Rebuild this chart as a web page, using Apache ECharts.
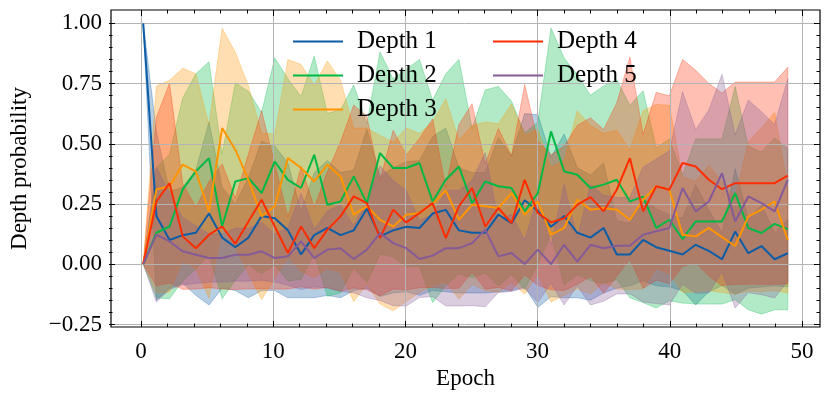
<!DOCTYPE html>
<html><head><meta charset="utf-8">
<script src="https://cdn.jsdelivr.net/npm/echarts@6/dist/echarts.min.js"></script>
<style>html,body{margin:0;padding:0;background:#fff}#c{width:830px;height:398px}</style>
</head><body><div id="c"></div>
<script>
const epochs = [0,1,2,3,4,5,6,7,8,9,10,11,12,13,14,15,16,17,18,19,20,21,22,23,24,25,26,27,28,29,30,31,32,33,34,35,36,37,38,39,40,41,42,43,44,45,46,47,48,49];
const seriesNames = ['Depth 1','Depth 2','Depth 3','Depth 4','Depth 5'];
const colors = ['#0C5DA5','#00B945','#FF9500','#FF2C00','#845B97'];
const xTickLabels = [0,10,20,30,40,50];
const yTickLabels = [-0.25,0,0.25,0.5,0.75,1.0];

const mean1 = [1.0,0.2,0.1,0.12,0.13,0.21,0.11,0.07,0.11,0.2,0.19,0.14,0.04,0.12,0.15,0.12,0.14,0.23,0.115,0.14,0.155,0.15,0.21,0.225,0.14,0.13,0.13,0.205,0.17,0.265,0.22,0.155,0.2,0.13,0.11,0.15,0.04,0.04,0.1,0.07,0.055,0.04,0.08,0.055,0.02,0.135,0.045,0.075,0.02,0.045];
const std1 = [0,0.35,0.2,0.2,0.26,0.38,0.21,0.18,0.25,0.31,0.3,0.28,0.18,0.26,0.28,0.26,0.25,0.33,0.25,0.26,0.27,0.28,0.32,0.34,0.26,0.25,0.25,0.32,0.28,0.36,0.4,0.29,0.34,0.27,0.26,0.27,0.14,0.13,0.17,0.16,0.15,0.15,0.25,0.17,0.11,0.26,0.145,0.17,0.11,0.14];
const mean2 = [0,0.13,0.156,0.31,0.385,0.44,0.156,0.343,0.357,0.295,0.426,0.35,0.316,0.454,0.246,0.26,0.364,0.253,0.461,0.399,0.399,0.42,0.26,0.35,0.405,0.253,0.343,0.323,0.316,0.219,0.295,0.551,0.385,0.371,0.316,0.33,0.35,0.26,0.28,0.15,0.184,0.104,0.177,0.177,0.177,0.295,0.15,0.129,0.167,0.145];
const std2 = [0,0.27,0.3,0.38,0.405,0.4,0.3,0.41,0.36,0.335,0.43,0.42,0.38,0.41,0.38,0.38,0.38,0.33,0.42,0.37,0.41,0.43,0.42,0.44,0.445,0.31,0.38,0.415,0.36,0.325,0.295,0.43,0.47,0.415,0.385,0.41,0.415,0.4,0.44,0.333,0.336,0.266,0.343,0.343,0.343,0.443,0.34,0.337,0.357,0.335];
const mean3 = [0,0.31,0.323,0.413,0.385,0.219,0.565,0.475,0.35,0.198,0.24,0.44,0.399,0.343,0.413,0.364,0.205,0.24,0.184,0.156,0.205,0.212,0.25,0.306,0.184,0.246,0.24,0.233,0.295,0.205,0.26,0.122,0.15,0.267,0.226,0.233,0.226,0.184,0.267,0.323,0.309,0.122,0.115,0.15,0.112,0.075,0.198,0.226,0.26,0.1];
const std3 = [0,0.43,0.44,0.4,0.405,0.36,0.415,0.405,0.39,0.345,0.3,0.41,0.43,0.4,0.43,0.4,0.36,0.325,0.35,0.35,0.36,0.33,0.34,0.38,0.33,0.33,0.35,0.35,0.37,0.33,0.3,0.28,0.28,0.37,0.35,0.31,0.33,0.29,0.37,0.34,0.35,0.24,0.23,0.26,0.23,0.2,0.31,0.34,0.37,0.22];
const mean4 = [0,0.26,0.336,0.115,0.066,0.122,0.156,0.084,0.177,0.267,0.156,0.046,0.156,0.066,0.143,0.198,0.281,0.253,0.108,0.226,0.173,0.212,0.253,0.108,0.24,0.316,0.156,0.233,0.17,0.35,0.212,0.173,0.19,0.246,0.278,0.219,0.309,0.44,0.219,0.323,0.309,0.42,0.405,0.35,0.311,0.336,0.336,0.336,0.336,0.367];
const std4 = [0,0.35,0.415,0.22,0.17,0.22,0.26,0.19,0.28,0.37,0.26,0.15,0.25,0.17,0.24,0.31,0.38,0.36,0.24,0.33,0.28,0.31,0.35,0.21,0.34,0.35,0.26,0.33,0.28,0.395,0.3,0.28,0.3,0.33,0.33,0.34,0.36,0.42,0.32,0.39,0.39,0.43,0.4,0.4,0.4,0.42,0.42,0.42,0.42,0.45];
const mean5 = [0,0.122,0.094,0.053,0.039,0.025,0.025,0.039,0.039,0.053,0.025,0.032,0.094,0.025,0.06,0.066,0.021,0.06,0.129,0.087,0.066,0.021,0.035,0.066,0.066,0.087,0.143,0.032,0.046,0.0,0.06,0.0,0.08,0.01,0.08,0.066,0.076,0.076,0.122,0.136,0.15,0.316,0.219,0.26,0.378,0.177,0.281,0.253,0.219,0.35];
const std5 = [0,0.28,0.2,0.14,0.12,0.1,0.1,0.11,0.11,0.12,0.1,0.12,0.2,0.12,0.16,0.18,0.14,0.2,0.28,0.26,0.24,0.16,0.17,0.24,0.24,0.26,0.32,0.15,0.16,0.1,0.22,0.08,0.25,0.1,0.25,0.22,0.2,0.2,0.28,0.3,0.32,0.4,0.34,0.38,0.41,0.36,0.4,0.38,0.36,0.42];

const FONT = 'Liberation Serif';
const FS = 23;
const means = [mean1,mean2,mean3,mean4,mean5];
const stds = [std1,std2,std3,std4,std5];

function hexA(hex, a){
  const n = parseInt(hex.slice(1),16);
  return 'rgba(' + (n>>16&255) + ',' + (n>>8&255) + ',' + (n&255) + ',' + a + ')';
}

const series = [];
means.forEach((m,i)=>{
  const rows = m.map((v,j)=>[epochs[j], v - stds[i][j], v + stds[i][j]]);
  series.push({
    type:'custom', name:'band_'+i, xAxisIndex:0, yAxisIndex:0, data:rows,
    encode:{x:0, y:[1,2]}, z:1, silent:true, clip:true,
    renderItem:(params, api)=>{
      if (params.dataIndex !== 0) return null;
      const up = rows.map(r=>api.coord([r[0], r[2]]));
      const lo = rows.map(r=>api.coord([r[0], r[1]])).reverse();
      return {
        type:'polygon',
        shape:{points: up.concat(lo)},
        style:{fill:hexA(colors[i],0.3), stroke:hexA(colors[i],0.3), lineWidth:1}
      };
    }
  });
});
means.forEach((m,i)=>{
  series.push({type:'line', name:seriesNames[i], xAxisIndex:0, yAxisIndex:0,
    data:m.map((v,j)=>[epochs[j], v]), symbol:'none',
    lineStyle:{color:colors[i], width:2}, itemStyle:{color:colors[i]}, z:3});
});

const tickStyle = {color:'#000', width:1};
const labelStyle = {fontFamily:FONT, fontSize:FS, color:'#000'};
const fmtY = v => (v < 0 ? '\u2212' : '') + Math.abs(v).toFixed(2);
const legendText = {fontFamily:FONT, fontSize:25, color:'#000', padding:[0,0,0,9], lineHeight:24};

const option = {
  animation:false,
  backgroundColor:'#fff',
  grid:[
    {left:109, right:10, top:10, bottom:71, show:true, borderColor:'#000', borderWidth:1.2, backgroundColor:'transparent', z:4},
    {left:141, width:661, top:10, bottom:71},
    {left:109, right:10, top:23.3, height:301.25}
  ],
  xAxis:[
    {gridIndex:0, type:'value', min:-2.45, max:51.45, axisLine:{show:false}, axisTick:{show:false},
     axisLabel:{show:false}, splitLine:{show:false},
     name:'Epoch', nameLocation:'middle', nameGap:40, nameTextStyle:labelStyle},
    {gridIndex:1, type:'value', min:0, max:50, interval:10, position:'bottom', z:2,
     axisLine:{show:false}, axisTick:{inside:true, length:6, lineStyle:tickStyle},
     minorTick:{show:true, splitNumber:5, length:3.5, lineStyle:tickStyle},
     axisLabel:Object.assign({margin:13, formatter:v=>String(v)}, labelStyle),
     splitLine:{show:true, lineStyle:{color:'#b4b4b4', width:1}}},
    {gridIndex:1, type:'value', min:0, max:50, interval:10, position:'top', z:2,
     axisLine:{show:false}, axisTick:{inside:true, length:6, lineStyle:tickStyle},
     minorTick:{show:true, splitNumber:5, length:3.5, lineStyle:tickStyle},
     axisLabel:{show:false}, splitLine:{show:false}},
    {gridIndex:2, type:'value', min:0, max:1, show:false}
  ],
  yAxis:[
    {gridIndex:0, type:'value', min:-0.2614, max:1.0553, axisLine:{show:false}, axisTick:{show:false},
     axisLabel:{show:false}, splitLine:{show:false},
     name:'Depth probability', nameLocation:'middle', nameGap:80, nameRotate:90, nameTextStyle:labelStyle},
    {gridIndex:1, type:'value', min:0, max:1, show:false},
    {gridIndex:2, type:'value', min:-0.25, max:1.0, interval:0.25, position:'left', z:2,
     axisLine:{show:false}, axisTick:{inside:true, length:6, lineStyle:tickStyle},
     minorTick:{show:true, splitNumber:5, length:3.5, lineStyle:tickStyle},
     axisLabel:Object.assign({margin:7, formatter:fmtY}, labelStyle),
     splitLine:{show:true, lineStyle:{color:'#b4b4b4', width:1}}},
    {gridIndex:2, type:'value', min:-0.25, max:1.0, interval:0.25, position:'right', z:2,
     axisLine:{show:false}, axisTick:{inside:true, length:6, lineStyle:tickStyle},
     minorTick:{show:true, splitNumber:5, length:3.5, lineStyle:tickStyle},
     axisLabel:{show:false}, splitLine:{show:false}}
  ],
  legend:[
    {data:seriesNames.slice(0,3), left:288, top:24, orient:'vertical', icon:'rect', itemWidth:50, itemHeight:2, itemGap:9,
     textStyle:legendText, selectedMode:false},
    {data:seriesNames.slice(3), left:488, top:24, orient:'vertical', icon:'rect', itemWidth:50, itemHeight:2, itemGap:9,
     textStyle:legendText, selectedMode:false}
  ],
  series:series
};
const chart = echarts.init(document.getElementById('c'));
chart.setOption(option);
</script></body></html>
